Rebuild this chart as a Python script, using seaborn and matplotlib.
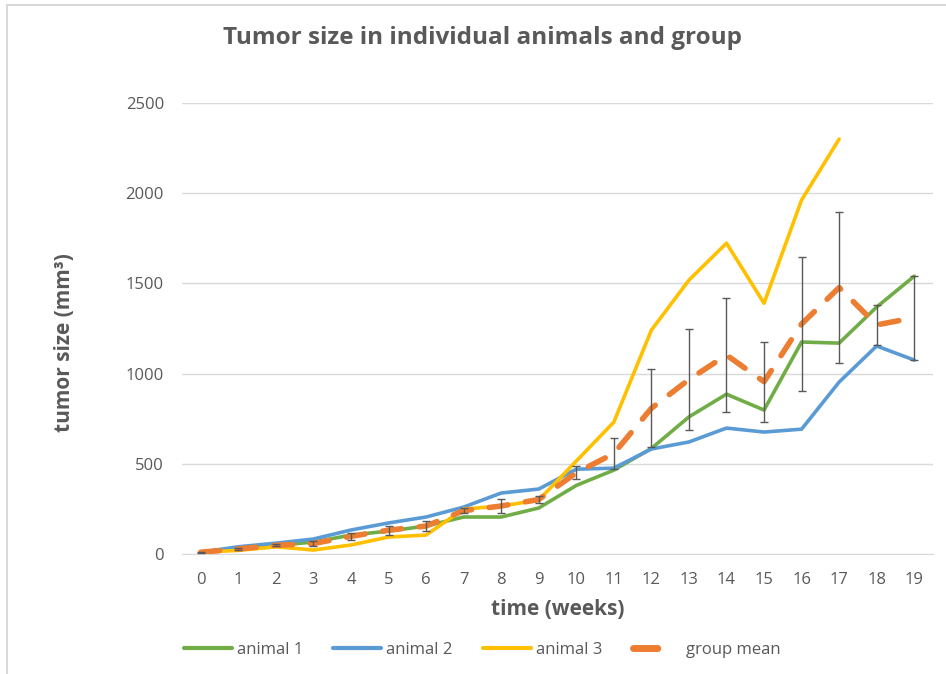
import numpy as np
import pandas as pd
import seaborn as sns
import matplotlib.pyplot as plt
from matplotlib.patches import Rectangle
from matplotlib.lines import Line2D

# data
weeks = list(range(20))
animal1 = [10, 30, 48, 66, 105, 127, 155, 205, 205, 255, 380, 465, 585, 760, 886, 798, 1175, 1169, 1369, 1540]
animal2 = [10, 40, 60, 83, 133, 172, 205, 260, 338, 360, 470, 476, 582, 621, 698, 676, 692, 953, 1153, 1075]
animal3 = [10, 20, 40, 22, 50, 94, 105, 249, 266, 299, 515, 731, 1241, 1518, 1723, 1390, 1962, 2300]
group_mean = [10, 28, 48, 58, 98, 132, 155, 240, 266, 302, 450, 557, 808, 967, 1103, 955, 1275, 1477, 1270, 1310]
group_err = [2, 5, 5, 12, 20, 25, 30, 15, 39, 20, 36, 85, 217, 280, 315, 222, 370, 419, 110, 233]

sns.set_style('white')
plt.rcParams['font.family'] = ['Open Sans', 'DejaVu Sans']
txt = '#595959'
c1, c2, c3, cm = '#70AD47', '#5B9BD5', '#FFC000', '#ED7D31'

fig = plt.figure(figsize=(9.46, 6.74), dpi=100)
ax = fig.add_axes([182 / 946, 1 - 554 / 674, 751 / 946, 451 / 674])

# chart border like Excel chart area
fig.patches.append(Rectangle((7 / 946, -0.05), 1.1, 1 - 5 / 674 + 0.05, transform=fig.transFigure,
                             fill=False, edgecolor='#d9d9d9', lw=1.5))

sns.lineplot(x=weeks, y=animal1, color=c1, lw=2.6, ax=ax)
sns.lineplot(x=weeks, y=animal2, color=c2, lw=2.6, ax=ax)
sns.lineplot(x=weeks[:len(animal3)], y=animal3, color=c3, lw=2.6, ax=ax)
sns.lineplot(x=weeks, y=group_mean, color=cm, lw=4, ax=ax, zorder=4)
mean_line = ax.get_lines()[-1]
mean_line.set_dashes((3.4, 3.2))
mean_line.set_dash_capstyle('round')

ax.errorbar(weeks, group_mean, yerr=group_err, fmt='none', ecolor='#595959',
            elinewidth=1, capsize=3, capthick=1, zorder=5)

ax.set_xlim(-0.5, 19.5)
ax.set_ylim(0, 2500)
ax.set_xticks(weeks)
ax.set_yticks([0, 500, 1000, 1500, 2000, 2500])
ax.yaxis.grid(True, color='#d9d9d9', lw=1)
ax.set_axisbelow(True)
for s in ['top', 'right', 'left']:
    ax.spines[s].set_visible(False)
ax.spines['bottom'].set_color('#d9d9d9')
ax.tick_params(axis='both', length=0, labelsize=12, colors=txt)
ax.tick_params(axis='x', pad=13)
ax.tick_params(axis='y', pad=13)

ax.set_xlabel('time (weeks)', fontsize=15, fontweight='bold', color=txt, labelpad=8)
ax.set_ylabel('tumor size (mm³)', fontsize=15, fontweight='bold', color=txt)
ax.yaxis.set_label_coords(-0.143, 0.468)
fig.text(482 / 946, 1 - 38 / 674, 'Tumor size in individual animals and group', ha='center', va='center',
         fontsize=17.5, fontweight='bold', color=txt)

handles = [Line2D([], [], color=c1, lw=3),
           Line2D([], [], color=c2, lw=3),
           Line2D([], [], color=c3, lw=3),
           Line2D([], [], color=cm, lw=5, dashes=(3.5, 20), dash_capstyle='round')]
labels = ['animal 1', 'animal 2', 'animal 3', 'group mean']
fig.legend(handles, labels, loc='center', bbox_to_anchor=(482 / 946, 1 - 650 / 674), ncol=4,
           frameon=False, fontsize=12, labelcolor=txt, handlelength=2.9, columnspacing=1.8,
           handletextpad=0.3)

fig.savefig('out.png', dpi=100)
